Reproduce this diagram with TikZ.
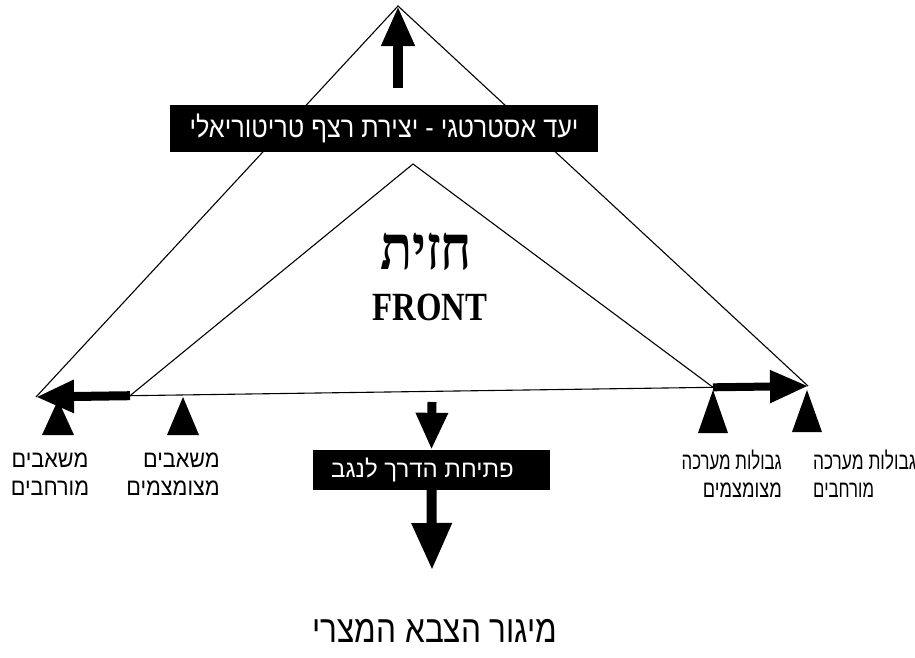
\documentclass[tikz,border=0pt]{standalone}
\usepackage{fontspec}
\usepackage{graphicx}
\usetikzlibrary{arrows.meta}
\TeXXeTstate=1
\newfontfamily\hebfont[Script=Hebrew]{Liberation Sans}
\newfontfamily\hebserif[Script=Hebrew]{Liberation Serif}
\setmainfont{Liberation Serif}
\newcommand{\narrow}[2]{\scalebox{#1}[1]{#2}}
\tikzset{
  thin line/.style={line width=1.1pt},
  bigarrow/.style={line width=#1, -{Triangle[length=38pt,width=31pt]}},
  banner/.style={fill=black, text=white, inner sep=0pt},
  lbl/.style={font=\hebfont\fontsize{24}{28}\selectfont, inner sep=0pt},
  marker/.style={fill=black}
}
\begin{document}
\begin{tikzpicture}[x=1pt,y=-1pt]
\useasboundingbox (0,0) rectangle (915,657);
% key points
\coordinate (apex) at (398,6);
\coordinate (L) at (36,397);
\coordinate (R) at (808,386);
\coordinate (iapex) at (413,164);
\coordinate (iL) at (130,395.7);
\coordinate (iR) at (713,387.3);
\coordinate (mtop) at (432,402);
% outer triangle
\draw[thin line] (L) -- (apex) -- (R);
% inner triangle
\draw[thin line] (iL) -- (iapex) -- (iR);
% base line
\draw[thin line] (iL) -- (iR);
% thick arrows along base
\draw[bigarrow=9pt] (iL) -- (L);
\draw[bigarrow=8pt] (iR) -- (R);
% top arrow
\coordinate (tstart) at (398,88);
\draw[line width=10pt, -{Triangle[length=40pt,width=31pt]}] (tstart) -- (apex);
% top banner
\node[banner, font=\hebfont\fontsize{29}{32}\selectfont, minimum width=428pt, minimum height=47pt] (goal) at (384,128)
  {\narrow{0.87}{\beginR יעד אסטרטגי - יצירת רצף טריטוריאלי\endR}};
% center text
\node[font=\hebserif\bfseries\fontsize{62}{64}\selectfont, inner sep=0pt] (hazit) at (426,252) {\narrow{0.85}{\beginR חזית\endR}};
\node[font=\bfseries\fontsize{40}{44}\selectfont, inner sep=0pt] (front) at (430,307) {\narrow{0.82}{FRONT}};
% middle banner
\node[banner, minimum width=237pt, minimum height=40pt] (road) at (431.5,470) {};
\node[font=\hebfont\fontsize{24}{28}\selectfont, text=white, inner sep=0pt] (roadtxt) at (422.5,470)
  {\narrow{1}{\beginR פתיחת הדרך לנגב\endR}};
\draw[line width=9pt, -{Triangle[length=37pt,width=30pt]}] (mtop) -- (road.north);
% bottom arrow and text
\coordinate (bend) at (432,570);
\draw[line width=10pt, -{Triangle[length=47pt,width=38pt]}] (road.south) -- (bend);
\node[font=\hebfont\fontsize{38}{40}\selectfont, inner sep=0pt] (defeat) at (435,631) {\narrow{0.83}{\beginR מיגור הצבא המצרי\endR}};
% markers
\fill[marker] (58,400) -- (42,435) -- (74,435) -- cycle;
\fill[marker] (183,397) -- (167,435) -- (199,435) -- cycle;
\fill[marker] (713,390) -- (698,433) -- (728,433) -- cycle;
\fill[marker] (807,390) -- (792,432) -- (822,432) -- cycle;
% labels
\node[lbl, align=center] (l1) at (50,474) {\narrow{0.9}{\beginR משאבים\endR}\\\narrow{0.9}{\beginR מורחבים\endR}};
\node[lbl, align=right, anchor=east] (l2) at (220,474) {\narrow{0.9}{\beginR משאבים\endR}\\\narrow{0.9}{\beginR מצומצמים\endR}};
\node[lbl, align=right, anchor=east] (l3) at (782,474) {\narrow{0.7}{\beginR גבולות מערכה\endR}\\\narrow{0.76}{\beginR מצומצמים\endR}};
\node[lbl, align=left, anchor=west] (l4) at (813,474) {\narrow{0.72}{\beginR גבולות מערכה\endR}\\\narrow{0.7}{\beginR מורחבים\endR}};
\end{tikzpicture}
\end{document}
